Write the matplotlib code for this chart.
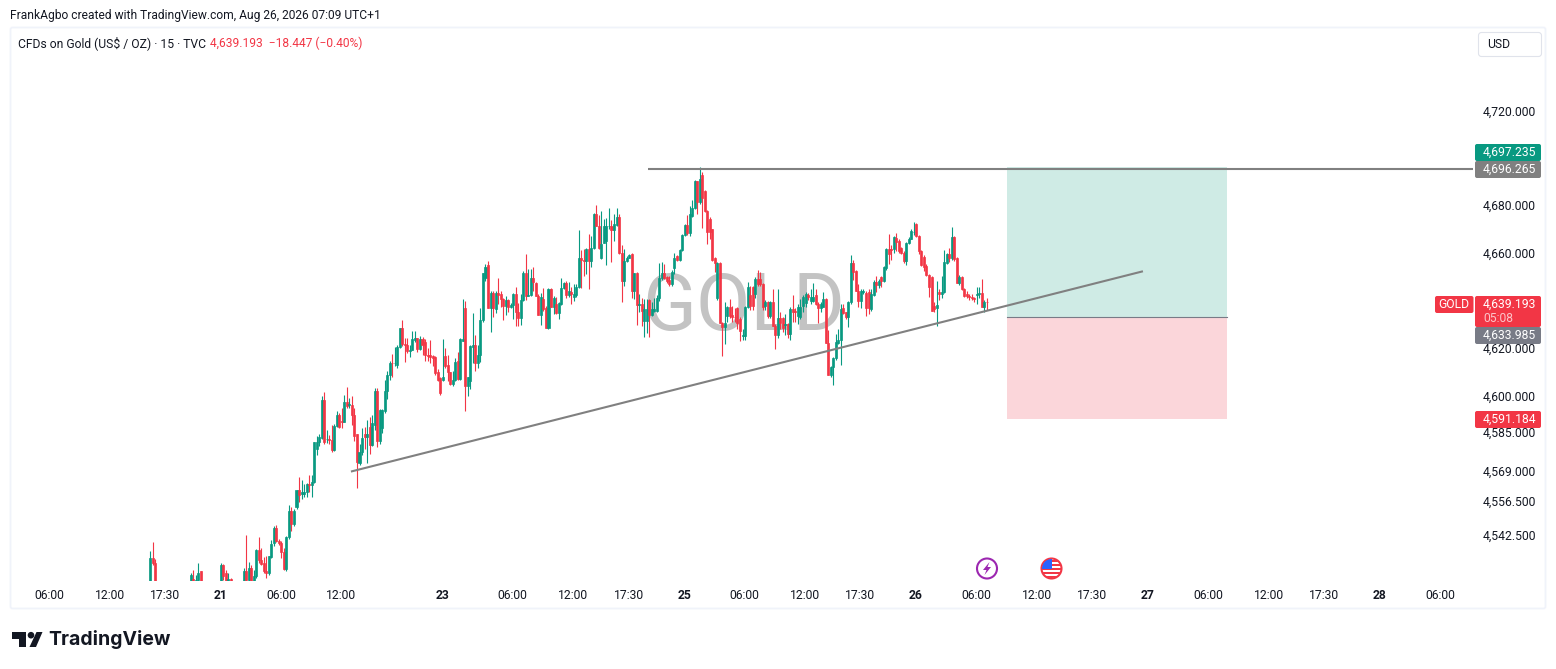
import matplotlib

matplotlib.use("Agg")
import matplotlib.pyplot as plt
import numpy as np
from matplotlib.patches import Circle, FancyBboxPatch, Polygon, Rectangle
from matplotlib.ticker import NullLocator

plt.rcParams["font.family"] = ["Roboto", "DejaVu Sans"]

# 15 min candles (bars under the pane edge are estimates)
opens = [
    4515, 4533, 4531, 4518, 4518, 4516, 4515, 4514, 4516, 4515,
    4514, 4516, 4515, 4517, 4516, 4516, 4520, 4524.5, 4520, 4524,
    4527.5, 4516, 4515, 4514, 4513, 4515, 4514, 4516, 4516, 4530,
    4527, 4520, 4524.5, 4518, 4517, 4516, 4517, 4518, 4527.5, 4524,
    4529, 4523, 4525.5, 4536.5, 4532, 4531, 4527.5, 4527, 4533.5, 4539,
    4545.3, 4540, 4539, 4535.5, 4528.5, 4541.5, 4552.5, 4547, 4554, 4561,
    4559.5, 4559.5, 4560, 4563.3, 4563, 4564.3, 4578, 4581, 4582.4, 4598.3,
    4582, 4582, 4581.7, 4577.5, 4587.5, 4592, 4589.6, 4589.3, 4597.6, 4596,
    4596.3, 4592, 4584, 4572, 4576.8, 4584, 4583, 4587.2, 4579.6, 4588,
    4602.2, 4581.4, 4586.5, 4593.7, 4601.8, 4608.8, 4613.7, 4613.5, 4613, 4620.4,
    4628.1, 4621.8, 4621.4, 4618.6, 4619.3, 4623.2, 4624.2, 4619.7, 4623.5, 4622.4,
    4617.2, 4617.2, 4616.5, 4616, 4609.9, 4607.4, 4606.7, 4616.8, 4613, 4609.9,
    4605, 4606.4, 4614.4, 4607.1, 4623, 4636.5, 4603.9, 4606, 4620.4, 4621.4,
    4613.7, 4616.9, 4631.5, 4649.4, 4654.6, 4636.8, 4642.8, 4636.1, 4643.1, 4642.4,
    4640.6, 4637.5, 4639.9, 4637.2, 4637.8, 4642.4, 4635.1, 4632.3, 4639.9, 4651.5,
    4641.8, 4642, 4649.4, 4647.3, 4641.7, 4633.6, 4640.6, 4636.8, 4628.4, 4644.5,
    4637.2, 4638.2, 4634.7, 4638.2, 4645.2, 4647.3, 4642, 4643.5, 4641.4, 4642,
    4645.6, 4657.8, 4657, 4656.4, 4661.3, 4656.4, 4662, 4676.4, 4671.1, 4657.8,
    4664, 4664.8, 4671.1, 4671.4, 4669.4, 4671.8, 4675, 4659.9, 4648, 4656.4,
    4657.8, 4659.2, 4643.8, 4651.2, 4637.9, 4638.3, 4631.3, 4631.3, 4640.1, 4633.8,
    4635.5, 4635.5, 4640.7, 4649.2, 4651.3, 4649.5, 4648.5, 4646.7, 4653.4, 4658.6,
    4656.8, 4661, 4667.5, 4671.6, 4668.1, 4675.4, 4678.9, 4690.1, 4681.3, 4692.9,
    4685.9, 4677.5, 4674, 4669.8, 4657.5, 4640.7, 4655.8, 4630.6, 4628.8, 4633.4,
    4636.9, 4633.6, 4633, 4636.5, 4632, 4625, 4625, 4637.2, 4642, 4645.3,
    4642.5, 4649, 4649, 4646.7, 4637.6, 4639, 4633.4, 4639, 4629.2, 4625.4,
    4632.3, 4632.3, 4629.5, 4629.9, 4625.7, 4636.2, 4635.5, 4633.4, 4632.7, 4637.6,
    4638.7, 4642, 4639.7, 4639.7, 4642, 4638.3, 4636.5, 4637.3, 4640.4, 4622.2,
    4608.5, 4612, 4615.6, 4622.2, 4623.2, 4636.5, 4634.8, 4632.7, 4639, 4655.4,
    4652.3, 4643.9, 4639.7, 4643.5, 4642.9, 4643.2, 4636.2, 4642.2, 4647.8, 4646.3,
    4649.5, 4648.1, 4653.3, 4661.4, 4661.4, 4661.4, 4666.3, 4664.9, 4662, 4660,
    4656.5, 4664.2, 4665.9, 4668.5, 4671.9, 4667, 4660.7, 4658.2, 4654.4, 4650.6,
    4649.5, 4637.6, 4636.6, 4643.2, 4642.5, 4643.6, 4655.8, 4659.3, 4657.9, 4666.6,
    4657.5, 4647.1, 4649.5, 4644.6, 4642.5, 4641.6, 4641.1, 4640.8, 4642.2, 4642.5,
    4642.9, 4637.2, 4639.4,
]
highs = [
    4536, 4539.5, 4532.5, 4520, 4523.4, 4519, 4518, 4517, 4518, 4517,
    4517, 4518, 4517, 4519, 4518, 4523.7, 4526.7, 4528, 4526, 4531,
    4527.5, 4518, 4517, 4516, 4515, 4517, 4516, 4518, 4531, 4530.5,
    4528, 4526.7, 4525, 4520, 4519, 4518, 4519, 4529, 4542.5, 4531.5,
    4530, 4528, 4536.7, 4541.5, 4537, 4533.3, 4534, 4534, 4540.4, 4546.3,
    4546.7, 4541, 4540, 4537.2, 4542, 4555, 4554, 4553, 4561, 4566.4,
    4565, 4563.6, 4564, 4567, 4567, 4581, 4583.3, 4584, 4600, 4601.4,
    4585.8, 4583.7, 4588, 4588.2, 4593.5, 4592.8, 4595, 4600.4, 4603.6, 4599,
    4600, 4595, 4584.2, 4580, 4586.5, 4587, 4590, 4591.4, 4592, 4603.2,
    4603.2, 4594.5, 4594.5, 4606.7, 4610.4, 4614.4, 4617.6, 4620.3, 4621.4, 4628.5,
    4631.5, 4624.2, 4624.2, 4621.4, 4627, 4627, 4624.2, 4624.9, 4624.4, 4623.5,
    4620, 4623.2, 4616.9, 4616.5, 4611.3, 4608, 4623.9, 4620, 4617.2, 4610,
    4610.2, 4615.8, 4618.3, 4624.2, 4640.3, 4639.6, 4608, 4621.4, 4634.4, 4625.2,
    4621.4, 4636.8, 4651.5, 4655, 4656.4, 4643.8, 4643.8, 4643.8, 4649.4, 4643.8,
    4641, 4641.7, 4640.5, 4638.9, 4642.8, 4645.6, 4638.9, 4642.4, 4652.2, 4659.2,
    4653.2, 4653.2, 4654, 4647.6, 4642.5, 4643, 4645.2, 4637.5, 4645.2, 4645.2,
    4641.7, 4641.4, 4639, 4649.4, 4647.6, 4648, 4647.6, 4645.5, 4646.6, 4646.6,
    4669.3, 4660.9, 4661.6, 4662, 4667.9, 4666.9, 4676.7, 4680.2, 4676, 4677.7,
    4674.2, 4674.6, 4678.8, 4673.9, 4676.4, 4679, 4676.4, 4663, 4661.6, 4658.5,
    4659.2, 4659.6, 4651.5, 4652, 4642.4, 4641, 4640.4, 4640.4, 4640.4, 4639,
    4640.7, 4642, 4655.8, 4656, 4655, 4650, 4650, 4652.5, 4660, 4659,
    4661.5, 4668, 4671.9, 4676, 4679.6, 4682.4, 4690.8, 4690.1, 4696.1, 4694,
    4686.5, 4678, 4675, 4670, 4658, 4656, 4656, 4631, 4639, 4637.6,
    4640.4, 4637.6, 4636.5, 4637, 4633, 4627.8, 4637.6, 4647.4, 4646, 4646,
    4649.5, 4652.6, 4652, 4647, 4640, 4639.5, 4639.5, 4644.5, 4630, 4644.6,
    4634.8, 4633, 4634, 4630.5, 4637, 4642, 4636.5, 4638.5, 4640.4, 4642,
    4643.5, 4643, 4644.6, 4647.1, 4644.6, 4639, 4639, 4643.5, 4641, 4627.5,
    4612.5, 4616, 4626, 4627.8, 4638.3, 4638.3, 4635.2, 4639.5, 4658.9, 4656.9,
    4652.8, 4646.7, 4644.5, 4644.6, 4644, 4644.6, 4644.6, 4648.4, 4650.2, 4649,
    4650.2, 4654.5, 4662, 4667.7, 4663, 4667, 4668.4, 4665.5, 4662.5, 4660.5,
    4664.5, 4666.5, 4670, 4673, 4672.6, 4667.5, 4661, 4658.8, 4655, 4651,
    4650, 4639, 4648.1, 4644.5, 4650, 4661.1, 4660, 4662, 4670.9, 4667,
    4658, 4650.5, 4650, 4645, 4644, 4642.5, 4642.5, 4641.5, 4645.3, 4645.3,
    4648.8, 4640, 4640.7,
]
lows = [
    4512, 4530, 4518, 4512, 4512, 4512, 4511, 4512, 4513, 4512,
    4511, 4512, 4512, 4513, 4513, 4514, 4518, 4518, 4518, 4523,
    4516, 4513, 4512, 4511, 4510, 4512, 4511, 4513, 4514, 4524,
    4521, 4519, 4517, 4515, 4514, 4513, 4514, 4516, 4522, 4523,
    4522, 4521, 4525, 4531, 4530, 4527, 4525, 4526, 4533, 4538,
    4539.5, 4538.5, 4533, 4528, 4527.5, 4541, 4544, 4546, 4553, 4556,
    4557.4, 4558, 4558, 4560, 4558, 4564, 4575.4, 4579, 4582, 4580,
    4580.3, 4580, 4576.8, 4577, 4587, 4586.5, 4586.5, 4589, 4595, 4594.9,
    4588, 4581.2, 4562, 4571.5, 4575.4, 4578, 4572.2, 4575.7, 4579, 4585.6,
    4578.9, 4580, 4584.5, 4593, 4598.5, 4606.7, 4608, 4612.3, 4611.6, 4620,
    4620.7, 4614, 4617.9, 4616, 4619, 4622.5, 4618.1, 4619, 4617.2, 4614.4,
    4614.4, 4613.7, 4612.3, 4608.8, 4606, 4600.4, 4606, 4611.6, 4606, 4604.6,
    4603.9, 4606, 4606.7, 4606.5, 4622.8, 4593.8, 4600, 4602.9, 4613.7, 4610.2,
    4611.5, 4614, 4631, 4648, 4636.5, 4626.6, 4632.9, 4634.4, 4638.2, 4637.2,
    4631.6, 4633.6, 4635, 4636.5, 4631.9, 4629.1, 4629.1, 4629.4, 4639.5, 4639.9,
    4641.7, 4641.7, 4643.8, 4641.7, 4633.6, 4629.4, 4635.4, 4628.4, 4627.7, 4637,
    4634, 4634, 4631.9, 4638, 4644.8, 4641, 4641.5, 4638.2, 4639.6, 4641.5,
    4645, 4645.2, 4650, 4650.8, 4644.5, 4653.9, 4661.5, 4671, 4661.6, 4657.1,
    4664, 4654.6, 4670, 4656, 4664.8, 4671, 4659.2, 4639.2, 4645.9, 4656,
    4657.5, 4641, 4640.6, 4629.5, 4635, 4629.2, 4624.7, 4626.4, 4624.7, 4633.5,
    4635, 4635, 4639.7, 4648.5, 4649, 4647, 4646, 4646, 4650.9, 4656.5,
    4656.5, 4660.5, 4667, 4667.5, 4667, 4675, 4678.2, 4676.1, 4680.5, 4670.5,
    4677, 4663.5, 4665.6, 4656.5, 4651.6, 4640, 4630.6, 4616.8, 4621.7, 4631,
    4632.5, 4631, 4631, 4627.8, 4622.9, 4623.2, 4623.2, 4636.5, 4636, 4636,
    4641, 4646, 4646, 4636, 4636, 4632.5, 4632.5, 4629, 4619.4, 4624.3,
    4628, 4626.5, 4625.5, 4624, 4623.2, 4631, 4631, 4630, 4632, 4635,
    4637, 4640, 4638.5, 4639, 4638, 4630.6, 4635, 4637, 4622, 4608.5,
    4608, 4604.7, 4615, 4621.5, 4613, 4634, 4632, 4628.9, 4638.5, 4648.4,
    4643.9, 4637.2, 4636.5, 4642.5, 4633.4, 4634, 4635.5, 4641.8, 4643.2, 4645,
    4645.3, 4647.5, 4652.8, 4655, 4657, 4660, 4660.7, 4660, 4659.5, 4655.4,
    4654.8, 4663.5, 4665.5, 4667.5, 4666.5, 4659.3, 4654.5, 4652.3, 4650.3, 4641.5,
    4635.5, 4635, 4629.2, 4640, 4641, 4643, 4655, 4656, 4657, 4656.5,
    4647, 4646.5, 4644.2, 4641.5, 4641, 4640, 4640, 4639, 4638.3, 4641,
    4637, 4634.8, 4635.8,
]
closes = [
    4533, 4531, 4518, 4515, 4514, 4515, 4514, 4516, 4515, 4514,
    4516, 4515, 4517, 4516, 4516, 4520, 4526, 4520, 4524, 4527,
    4516, 4515, 4514, 4513, 4515, 4514, 4516, 4515, 4530, 4525.5,
    4523.5, 4524.5, 4518, 4517, 4516, 4517, 4518, 4527.5, 4524, 4529,
    4523.5, 4525.5, 4536.5, 4532, 4530.5, 4527.5, 4527, 4533.7, 4538.6, 4545.5,
    4540, 4539, 4535.5, 4528.5, 4541.7, 4552.5, 4547, 4552.5, 4561, 4559,
    4560, 4560, 4563.3, 4563, 4564.4, 4581, 4581, 4582.8, 4598.3, 4580.7,
    4582, 4581.7, 4577.5, 4587.5, 4592, 4587.2, 4589, 4597.6, 4595.6, 4596.5,
    4592, 4583.3, 4572.6, 4576.8, 4582.4, 4583, 4584.2, 4579.6, 4588.6, 4602.2,
    4581.4, 4594, 4594, 4601.8, 4608.8, 4613.7, 4613.5, 4613.5, 4620.4, 4628.1,
    4621.8, 4621.4, 4618.6, 4619.3, 4623.5, 4624.2, 4619.7, 4623.5, 4621.4, 4616.9,
    4616.8, 4616.2, 4615.8, 4609.5, 4606.4, 4601.3, 4608, 4612.5, 4609.9, 4605,
    4606.4, 4614.1, 4607.1, 4623.5, 4623.5, 4603.9, 4607.8, 4620.7, 4621.4, 4613.7,
    4616.9, 4631.5, 4651.5, 4654, 4636.8, 4642.8, 4636.5, 4643.1, 4642, 4640.3,
    4637.5, 4639.9, 4637.2, 4637.8, 4642.4, 4635.1, 4632.3, 4639.9, 4651.5, 4641.7,
    4642.2, 4649.4, 4647.6, 4641.7, 4633.6, 4641.4, 4636.1, 4628.4, 4644.5, 4637.2,
    4641, 4634.7, 4638.6, 4645.2, 4647.3, 4642, 4643.8, 4642.4, 4642.4, 4645.6,
    4657.8, 4656.8, 4656.4, 4661.3, 4656.4, 4662, 4676.4, 4671.1, 4662, 4663.8,
    4671.1, 4671.1, 4671.4, 4669.4, 4672, 4675, 4659.9, 4648, 4656.4, 4657.8,
    4658.8, 4643.8, 4651.2, 4637.9, 4638.3, 4635.5, 4636.2, 4636.2, 4633.8, 4636.2,
    4636.2, 4640.7, 4649.2, 4651.2, 4649.2, 4648, 4646.7, 4651.6, 4657.9, 4656.8,
    4661, 4667.5, 4671.6, 4668.1, 4676.1, 4678.9, 4690.1, 4681.3, 4691, 4683.1,
    4677.5, 4668.7, 4668.7, 4656.9, 4655.8, 4655.8, 4630.6, 4628.8, 4630.6, 4636.9,
    4633.4, 4632.7, 4632.7, 4630.2, 4627, 4625.5, 4637.2, 4645.3, 4637.6, 4637.6,
    4649, 4646.7, 4646.7, 4636.9, 4639, 4633.4, 4639, 4629.2, 4625.4, 4632.3,
    4630.6, 4628.5, 4630, 4625.7, 4636.2, 4634.8, 4634.8, 4636.9, 4636.9, 4641.1,
    4642.5, 4641.1, 4641.5, 4641.5, 4638.3, 4636.5, 4638.3, 4640.4, 4622.2, 4608.5,
    4612, 4615.6, 4622.5, 4623.2, 4636.2, 4634.5, 4632.7, 4639, 4655.4, 4651.9,
    4643.9, 4639.7, 4643.9, 4643.9, 4636.6, 4636.6, 4642.5, 4647.8, 4646.3, 4648.1,
    4648.1, 4654, 4661.4, 4659.3, 4661.1, 4666.7, 4664.6, 4660.7, 4660, 4656.5,
    4664.2, 4665.9, 4669.1, 4668.7, 4667, 4660.7, 4654.7, 4654.1, 4650.6, 4645.6,
    4635.5, 4636.2, 4638, 4642.5, 4643.6, 4656.2, 4659.3, 4657.9, 4666.6, 4657.2,
    4647.1, 4649.5, 4644.6, 4641.8, 4641.8, 4641.3, 4640.9, 4640.4, 4642.5, 4642.9,
    4637.2, 4639, 4639.19,
]

price_ticks = [4720, 4680, 4660, 4620, 4600, 4585, 4569, 4556.5, 4542.5]
time_ticks = [0, 24, 46, 68, 92, 116, 156, 184, 208, 230, 252, 276,
              300, 322, 344, 368, 392, 414, 436, 460, 484, 506, 528, 552]
time_labels = ["06:00", "12:00", "17:30", "21", "06:00", "12:00", "23", "06:00",
               "12:00", "17:30", "25", "06:00", "12:00", "17:30", "26", "06:00",
               "12:00", "17:30", "27", "06:00", "12:00", "17:30", "28", "06:00"]
day_labels = ["21", "23", "25", "26", "27", "28"]

first_bar = 40.2
resistance_price = 4695.4
resistance_start = 237.6
trend_x = [120.2, 433.7]
trend_y = [4568.7, 4652]
# long position box
box_x = [380.2, 467.5]
box_target, box_entry, box_stop = 4696, 4633, 4590.2

GREEN = "#089981"
RED = "#f23645"
TEXT = "#131722"

W, H = 1556, 669
fig = plt.figure(figsize=(W / 100, H / 100), dpi=100)

# pane: x 11..1473, y 28..581 in pixels
ax = fig.add_axes([11 / W, 1 - 581 / H, (1473 - 11) / W, (581 - 28) / H])
ax.set_yscale("log")
ax.set_xlim(-15.1, 565.08)
ax.set_ylim(4523.6, 4755.6)
for s in ax.spines.values():
    s.set_visible(False)

ax.text(275.6, 4636.5, "GOLD", color="#c3c3c3", fontsize=57, ha="center", va="center", zorder=0)

x = first_bar + np.arange(len(closes))
o = np.array(opens)
h = np.array(highs)
l = np.array(lows)
c = np.array(closes)
colors = np.where(c >= o, GREEN, RED)

ax.vlines(x, l, h, colors=colors, linewidth=0.8, zorder=2)
ax.bar(x, np.abs(c - o), bottom=np.minimum(o, c), width=0.8, color=colors,
       edgecolor=colors, linewidth=0.5, zorder=3)

ax.add_patch(Rectangle((box_x[0], box_entry), box_x[1] - box_x[0], box_target - box_entry,
                       facecolor="#cfebe5", edgecolor="none", zorder=1))
ax.add_patch(Rectangle((box_x[0], box_stop), box_x[1] - box_x[0], box_entry - box_stop,
                       facecolor="#fbd6da", edgecolor="none", zorder=1))
ax.plot(box_x, [box_entry, box_entry], color="#787b86", lw=0.8, zorder=4)

ax.plot([resistance_start, ax.get_xlim()[1]], [resistance_price, resistance_price],
        color="#808080", lw=1.5, zorder=5, solid_capstyle="butt")
ax.plot(trend_x, trend_y, color="#808080", lw=1.5, zorder=5)

ax.yaxis.tick_right()
ax.set_yticks(price_ticks, [f"{p:,.3f}" for p in price_ticks])
ax.yaxis.set_minor_locator(NullLocator())
ax.tick_params(axis="y", length=0, pad=7.2, labelsize=8.7, labelcolor=TEXT)
ax.set_xticks(time_ticks, time_labels)
ax.tick_params(axis="x", length=0, pad=6, labelsize=8.7, labelcolor=TEXT)
for t in ax.get_xticklabels():
    if t.get_text() in day_labels:
        t.set_fontweight("bold")

# everything around the pane, in pixels
ov = fig.add_axes([0, 0, 1, 1])
ov.set_xlim(0, W)
ov.set_ylim(H, 0)
ov.axis("off")
ov.patch.set_alpha(0)

ov.add_patch(FancyBboxPatch((10.5, 27.5), 1535, 581, boxstyle="round,pad=0,rounding_size=2",
                            facecolor="none", edgecolor="#f0f3fa", lw=1.3))
ov.text(10, 16, "FrankAgbo created with TradingView.com, Aug 26, 2026 07:09 UTC+1",
        color=TEXT, fontsize=8.66, va="center")
ov.text(18, 43, "CFDs on Gold (US$ / OZ) · 15 · TVC", color=TEXT, fontsize=8.7, va="center")
ov.text(210, 43, "4,639.193  −18.447 (−0.40%)", color=RED, fontsize=8.66, va="center")

ov.add_patch(FancyBboxPatch((1478.5, 32.5), 63, 24, boxstyle="round,pad=0,rounding_size=3",
                            facecolor="white", edgecolor="#e0e3eb", lw=0.8))
ov.text(1487, 45, "USD", color=TEXT, fontsize=8.7, va="center")


def price_tag(y0, y1, color, x0=1475, x1=1541):
    ov.add_patch(FancyBboxPatch((x0, y0), x1 - x0, y1 - y0, boxstyle="round,pad=0,rounding_size=2",
                                facecolor=color, edgecolor="none"))


price_tag(144, 161, GREEN)
ov.text(1483, 152.5, "4,697.235", color="white", fontsize=8.7, va="center")
price_tag(161, 178, "#808080")
ov.text(1483, 169.5, "4,696.265", color="white", fontsize=8.7, va="center")
price_tag(296, 327, RED)
ov.text(1483, 304, "4,639.193", color="white", fontsize=8.7, va="center")
ov.text(1483, 318, "05:08", color="#fcc4c9", fontsize=8.7, va="center")
price_tag(327, 344, "#787b86")
ov.text(1483, 335.5, "4,633.985", color="white", fontsize=8.7, va="center")
price_tag(411, 428, RED)
ov.text(1483, 419.5, "4,591.184", color="white", fontsize=8.7, va="center")
price_tag(296, 313, RED, 1435, 1473.5)
ov.text(1454, 304.5, "GOLD", color="white", fontsize=8.7, va="center", ha="center")

# event icons
ov.add_patch(Circle((987, 568.5), 10, facecolor="white", edgecolor="#9c27b0", lw=1.5))
ov.add_patch(Polygon([(989.5, 562), (983, 570), (986.5, 570), (984.5, 575), (991, 567),
                      (987.5, 567)], closed=True, facecolor="#9c27b0", edgecolor="none"))
flag_clip = Circle((1051.5, 568.5), 9.5, transform=ov.transData)
ov.add_patch(Circle((1051.5, 568.5), 10, facecolor="white", edgecolor=RED, lw=1.5))
for yy in [560, 564, 568, 572, 576]:
    r = Rectangle((1041, yy), 21, 2, facecolor=RED, edgecolor="none")
    ov.add_patch(r)
    r.set_clip_path(flag_clip)
r = Rectangle((1041, 559), 11, 10, facecolor="#2962ff", edgecolor="none")
ov.add_patch(r)
r.set_clip_path(flag_clip)

# logo
ov.add_patch(Polygon([(12, 632), (26.5, 632), (26.5, 647), (19.5, 647), (19.5, 638.5), (12, 638.5)],
                     closed=True, facecolor="#131722", edgecolor="none"))
ov.add_patch(Circle((31, 635.2), 3.3, facecolor="#131722", edgecolor="none"))
ov.add_patch(Polygon([(36.5, 632), (42.5, 632), (36, 647), (29.5, 647)],
                     closed=True, facecolor="#131722", edgecolor="none"))
ov.text(48.5, 639.5, "TradingView", color="#131722", fontsize=14, fontweight="bold",
        family=["Inter", "DejaVu Sans"], va="center")

fig.savefig("out.png", dpi=100, facecolor="white")
